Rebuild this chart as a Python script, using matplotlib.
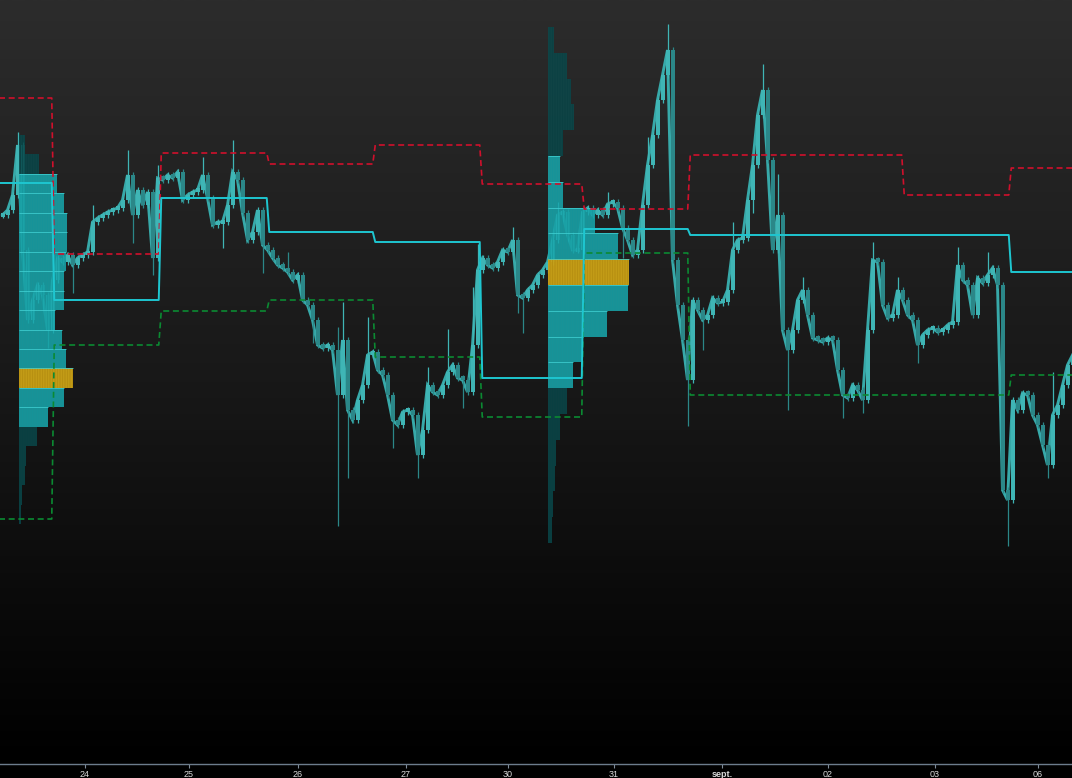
import matplotlib.pyplot as plt
import numpy as np

plt.rcParams['font.family'] = ['Liberation Sans Narrow', 'Liberation Sans', 'DejaVu Sans']
plt.rcParams['hatch.linewidth'] = 0.6

# closing price of each bar (one bar every ~5 px of the original chart)
closes = [585, 590, 605, 655, 550, 480, 500, 515, 505, 470, 520, 542, 538, 545, 535, 542, 545, 548,
          578, 582, 585, 588, 590, 592, 600, 625, 585, 610, 595, 608, 542, 622, 620, 625, 622, 628,
          600, 605, 608, 610, 625, 602, 575, 578, 578, 595, 628, 620, 587, 560, 568, 590, 555, 550,
          542, 535, 532, 528, 520, 525, 500, 495, 480, 455, 452, 455, 450, 405, 460, 390, 380, 400,
          415, 445, 448, 430, 425, 405, 380, 375, 388, 390, 385, 345, 370, 415, 408, 405, 415, 428,
          435, 422, 420, 408, 455, 530, 542, 535, 532, 538, 550, 548, 560, 505, 502, 510, 515, 525,
          530, 538, 560, 585, 588, 565, 550, 550, 588, 592, 585, 590, 585, 596, 598, 592, 572, 560,
          545, 550, 595, 635, 665, 700, 725, 750, 540, 495, 460, 420, 500, 490, 480, 485, 502, 497,
          498, 510, 550, 560, 562, 600, 635, 685, 710, 640, 550, 585, 470, 450, 470, 500, 510, 485,
          462, 460, 458, 462, 460, 430, 405, 402, 415, 410, 400, 470, 540, 538, 495, 482, 485, 510,
          500, 485, 480, 455, 465, 470, 472, 468, 470, 475, 478, 535, 520, 515, 485, 522, 517, 525,
          532, 515, 310, 300, 400, 390, 407, 405, 385, 375, 355, 335, 385, 395, 415, 435, 445]

# spikes beyond the bodies
wick_hi_bars = [3, 18, 25, 31, 40, 46, 57, 67, 68, 73, 85, 89, 94, 95, 102, 111, 121, 129, 133,
                146, 152, 155, 160, 174, 179, 191, 197, 210]
wick_hi_vals = [665, 592, 647, 632, 640, 657, 545, 470, 495, 480, 430, 468, 510, 553, 570, 595,
                605, 660, 773, 575, 733, 623, 520, 555, 520, 550, 545, 425]
wick_lo_bars = [9, 14, 26, 30, 44, 52, 62, 67, 69, 78, 83, 92, 103, 104, 124, 137, 140, 150, 157,
                168, 172, 183, 201, 209]
wick_lo_vals = [455, 510, 560, 528, 555, 530, 460, 277, 325, 355, 325, 395, 490, 470, 545, 377,
                453, 590, 393, 385, 390, 440, 257, 325]

# session boundaries (bar units) and per-session levels
session_edges = [-2, 10.1, 31.5, 53.1, 74.3, 95.7, 116.1, 137.3, 158.7, 180.1, 201.5, 216]
upper_band = [702, 546, 647, 636, 655, 616, 591, 645, 645, 605, 632]
mid_line = [617, 500, 602, 568, 558, 422, 571, 565, 565, 565, 528]
lower_band = [281, 455, 489, 500, 443, 383, 547, 405, 405, 405, 425]

# volume profiles (rows listed bottom -> top)
vp1_left, vp1_low, vp1_step = 3.3, 276, 19.45
vp1_volume = [2, 3, 6, 7, 18, 29, 45, 54, 47, 43, 36, 45, 45, 47, 48, 48, 45, 38, 20, 6]
vp1_va = (5, 17)
vp1_poc = 7
vp2_left, vp2_low, vp2_step = 109.0, 257, 25.8
vp2_volume = [4, 5, 7, 8, 12, 19, 25, 35, 59, 80, 81, 70, 47, 15, 12, 15, 26, 23, 19, 6]
vp2_va = (6, 14)
vp2_poc = 10

tick_pos = [16.5, 37.3, 59.1, 80.7, 101.1, 122.3, 143.9, 165.1, 186.5, 207.1]
tick_labels = ['24', '25', '26', '27', '30', '31', 'sept.', '02', '03', '06']

fig = plt.figure(figsize=(10.72, 7.78), dpi=100, facecolor='black')
ax = fig.add_axes([0, 14 / 778, 1, 764 / 778])
ax.set_facecolor('black')
xmin, xmax = -0.5, 1072 / 5 - 0.5
ymin, ymax = 800 - 764, 800
ax.set_xlim(xmin, xmax)
ax.set_ylim(ymin, ymax)

# background gradient
grad = np.linspace(0.0, 1.0, 256).reshape(-1, 1)
ax.imshow(grad, extent=[xmin, xmax, ymin, ymax], origin='lower', aspect='auto',
          cmap=plt.matplotlib.colors.LinearSegmentedColormap.from_list('bg', ['#000000', '#181818', '#2c2c2c']),
          zorder=0)

# candles
x = np.arange(len(closes))
opens = [closes[0]] + closes[:-1]
ax.plot(x, closes, color='#37a9a9', lw=2.1, zorder=2, solid_joinstyle='miter')
for i in range(len(closes)):
    o, c = opens[i], closes[i]
    col = '#3fb5b5' if c >= o else '#2b8788'
    lo, hi = min(o, c), max(o, c)
    if i in wick_hi_bars:
        hi = max(hi, wick_hi_vals[wick_hi_bars.index(i)])
    if i in wick_lo_bars:
        lo = min(lo, wick_lo_vals[wick_lo_bars.index(i)])
    ax.vlines(x[i], lo - 3, hi + 3, color=col, lw=0.9, zorder=2)
    ax.bar(x[i], max(abs(c - o), 4), bottom=min(o, c) - (2 if o == c else 0), width=0.8,
           color=col, lw=0, zorder=2)


def draw_profile(left, low, step, vols, va, poc):
    scale = 0.2
    for k, v in enumerate(vols):
        y0 = low + k * step
        if k == poc:
            face, hatch_col, alpha = '#d2a818', '#b38c10', 0.95
        elif va[0] <= k <= va[1]:
            face, hatch_col, alpha = '#1cadb2', '#14949a', 0.82
        else:
            face, hatch_col, alpha = '#0a4f52', '#083f41', 0.75
        ax.bar(left, step, bottom=y0, width=v * scale, align='edge', color=face,
               alpha=alpha, edgecolor=hatch_col, hatch='|' * 10, lw=0, zorder=3)
        if va[0] <= k <= va[1] or k == poc:
            ax.hlines(y0 + step, left, left + v * scale, color='#3fcfd2', lw=0.7,
                      alpha=0.8, zorder=3.5)


draw_profile(vp1_left, vp1_low, vp1_step, vp1_volume, vp1_va, vp1_poc)
draw_profile(vp2_left, vp2_low, vp2_step, vp2_volume, vp2_va, vp2_poc)


def step_line(levels, gap=0.25):
    xs, ys = [], []
    for k, lvl in enumerate(levels):
        xs += [session_edges[k] + gap, session_edges[k + 1] - gap]
        ys += [lvl, lvl]
    return xs, ys


ux, uy = step_line(upper_band)
ax.plot(ux, uy, color='#d0102c', lw=1.2, ls=(0, (3.6, 2.2)), zorder=4)
lx, ly = step_line(lower_band)
ax.plot(lx, ly, color='#0b8a32', lw=1.2, ls=(0, (3.6, 2.2)), zorder=4)
mx, my = step_line(mid_line)
ax.plot(mx, my, color='#1ec6d0', lw=1.4, zorder=4)

# axis styling
for s in ['top', 'left', 'right']:
    ax.spines[s].set_visible(False)
ax.spines['bottom'].set_color('#6c7c8c')
ax.spines['bottom'].set_linewidth(1.0)
ax.set_yticks([])
ax.set_xticks(tick_pos)
ax.set_xticklabels(tick_labels)
ax.tick_params(axis='x', colors='#7f8c99', length=3, width=0.8, pad=1,
               labelsize=6.5, labelcolor='#d8d8d8')
for lab in ax.get_xticklabels():
    if lab.get_text() == 'sept.':
        lab.set_fontweight('bold')

fig.savefig('out.png', dpi=100, facecolor='black')
